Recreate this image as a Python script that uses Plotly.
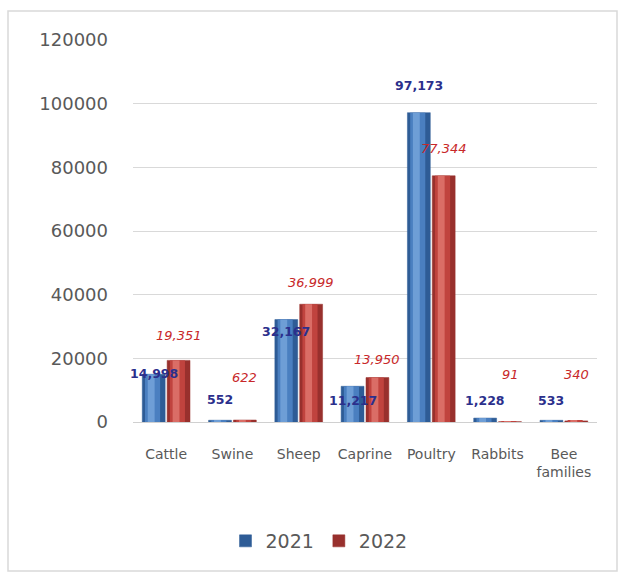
import plotly.graph_objects as go

# Livestock counts by category, 2021 vs 2022
categories = ["Cattle", "Swine", "Sheep", "Caprine", "Poultry", "Rabbits", "Bee<br>families"]
values_2021 = [14998, 552, 32167, 11217, 97173, 1228, 533]
values_2022 = [19351, 622, 36999, 13950, 77344, 91, 340]
labels_2021 = ["14,998", "552", "32,167", "11,217", "97,173", "1,228", "533"]
labels_2022 = ["19,351", "622", "36,999", "13,950", "77,344", "91", "340"]
y_ticks = [0, 20000, 40000, 60000, 80000, 100000, 120000]

# bar geometry in category units
BAR_W = 0.345
OFF_21 = -0.36
OFF_22 = 0.015

# label placement (pixels above the bar top)
shift_21 = [1, 21, -12, -14, 27, 18, 20]
shift_22 = [25, 43, 22, 18, 27, 47, 46]

W, H = 619, 573
L, R, T, B = 133, 22, 40, 151
plot_w = W - L - R
plot_h = H - T - B

fig = go.Figure()


def add_cylinder(values, offset, colors, name):
    """Stack of narrowing bars that gives a shaded, rounded look."""
    base, mid, light = colors
    fig.add_trace(go.Bar(
        x=categories, y=values, name=name, offset=offset, width=BAR_W,
        marker=dict(color=base, line=dict(color=base, width=0.5)),
        showlegend=True, hoverinfo="x+y",
    ))
    fig.add_trace(go.Bar(
        x=categories, y=values, offset=offset + BAR_W * 0.12, width=BAR_W * 0.66,
        marker=dict(color=mid, line=dict(width=0)),
        showlegend=False, hoverinfo="skip",
    ))
    fig.add_trace(go.Bar(
        x=categories, y=values, offset=offset + BAR_W * 0.24, width=BAR_W * 0.3,
        marker=dict(color=light, line=dict(width=0)),
        showlegend=False, hoverinfo="skip",
    ))


add_cylinder(values_2021, OFF_21, ("#2E5C96", "#4A7FC0", "#6E9ED6"), "2021")
add_cylinder(values_2022, OFF_22, ("#98302D", "#C0433E", "#DA6D66"), "2022")

annotations = []
for i, cat in enumerate(categories):
    annotations.append(dict(
        x=i + OFF_21 + BAR_W / 2, y=values_2021[i], xref="x", yref="y",
        text=labels_2021[i], showarrow=False, yanchor="middle", xanchor="center",
        yshift=shift_21[i],
        font=dict(family="DejaVu Sans", size=12.5, color="#2B2F8C", weight="bold"),
    ))
    annotations.append(dict(
        x=i + OFF_22 + BAR_W / 2, y=values_2022[i], xref="x", yref="y",
        text="<i>" + labels_2022[i] + "</i>", showarrow=False, yanchor="middle",
        xanchor="center", yshift=shift_22[i],
        font=dict(family="DejaVu Sans", size=13, color="#C8282A"),
    ))

# outer chart frame
frame = dict(
    type="rect", xref="paper", yref="paper",
    x0=(8 - L) / plot_w, x1=(617 - L) / plot_w,
    y0=(H - B - 571) / plot_h, y1=(H - B - 11) / plot_h,
    line=dict(color="#D9D9D9", width=1.5), fillcolor="rgba(0,0,0,0)", layer="below",
)

fig.update_layout(
    width=W, height=H,
    margin=dict(l=L, r=R, t=T, b=B),
    paper_bgcolor="white", plot_bgcolor="white",
    barmode="overlay",
    font=dict(family="DejaVu Sans", color="#595959"),
    xaxis=dict(
        type="category", showgrid=False, showline=False, zeroline=False,
        ticks="", ticklabelstandoff=22,
        tickfont=dict(size=14, color="#595959"),
        range=[-0.5, len(categories) - 0.5],
    ),
    yaxis=dict(
        range=[0, 120000], tickvals=y_ticks, tickformat="d",
        showgrid=True, gridcolor="#D9D9D9", gridwidth=1,
        zeroline=True, zerolinecolor="#D0D0D0", zerolinewidth=1,
        showline=False, ticks="", ticklabelstandoff=24,
        tickfont=dict(size=18, color="#595959"),
    ),
    legend=dict(
        orientation="h", x=(319 - L) / plot_w, y=(H - B - 541) / plot_h,
        xanchor="center", yanchor="middle",
        font=dict(size=19, color="#595959"),
        itemwidth=30, traceorder="normal",
    ),
    annotations=annotations,
    shapes=[frame],
    showlegend=True,
)

fig.write_html("out.html")
